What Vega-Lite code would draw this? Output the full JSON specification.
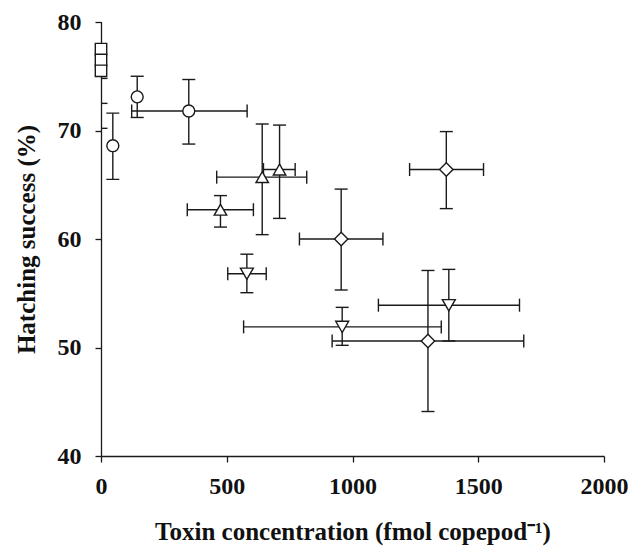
{
  "$schema": "https://vega.github.io/schema/vega-lite/v6.json",
  "width": 503,
  "height": 434,
  "autosize": "none",
  "padding": {"left": 101, "top": 22, "right": 37, "bottom": 90},
  "background": "white",
  "data": {
    "values": [
      {"group": "control", "x": 0, "y": 77.5, "ylo": 74.8, "yhi": 80.2},
      {"group": "control", "x": 0, "y": 76.5, "ylo": 72.5, "yhi": 80.5},
      {"group": "control", "x": 0, "y": 75.5, "ylo": 70.2, "yhi": 80.8},
      {"group": "circle", "x": 47, "y": 68.6, "ylo": 65.5, "yhi": 71.6},
      {"group": "circle", "x": 144, "y": 73.1, "ylo": 71.2, "yhi": 75.0},
      {"group": "circle", "x": 349, "y": 71.8, "ylo": 68.75, "yhi": 74.7, "xlo": 122, "xhi": 581},
      {"group": "up", "x": 475, "y": 62.7, "ylo": 61.1, "yhi": 64.0, "xlo": 343, "xhi": 606},
      {"group": "up", "x": 641, "y": 65.7, "ylo": 60.4, "yhi": 70.6, "xlo": 460, "xhi": 818},
      {"group": "up", "x": 710, "y": 66.4, "ylo": 61.9, "yhi": 70.5, "xlo": 646, "xhi": 772},
      {"group": "down", "x": 580, "y": 56.8, "ylo": 55.05, "yhi": 58.6, "xlo": 504, "xhi": 657},
      {"group": "down", "x": 959, "y": 51.9, "ylo": 50.2, "yhi": 53.7, "xlo": 567, "xhi": 1353},
      {"group": "down", "x": 1383, "y": 53.9, "ylo": 50.6, "yhi": 57.2, "xlo": 1103, "xhi": 1664},
      {"group": "diamond", "x": 1373, "y": 66.4, "ylo": 62.8, "yhi": 69.9, "xlo": 1227, "xhi": 1521},
      {"group": "diamond", "x": 955, "y": 60.0, "ylo": 55.3, "yhi": 64.6, "xlo": 789, "xhi": 1121},
      {"group": "diamond", "x": 1300, "y": 50.6, "ylo": 44.1, "yhi": 57.1, "xlo": 919, "xhi": 1681}
    ]
  },
  "encoding": {
    "x": {
      "field": "x",
      "type": "quantitative",
      "scale": {"domain": [0, 2000], "nice": false},
      "axis": {"values": [0, 500, 1000, 1500, 2000], "format": "d", "title": "Toxin concentration (fmol copepod⁻¹)"}
    },
    "y": {
      "field": "y",
      "type": "quantitative",
      "scale": {"domain": [40, 80], "nice": false, "zero": false},
      "axis": {"values": [40, 50, 60, 70, 80], "format": "d", "title": "Hatching success (%)"}
    }
  },
  "layer": [
    {
      "mark": {"type": "rule", "color": "#1a1a1a", "strokeWidth": 1.4, "clip": true},
      "encoding": {"y": {"field": "ylo", "type": "quantitative"}, "y2": {"field": "yhi"}}
    },
    {
      "mark": {"type": "tick", "orient": "horizontal", "size": 13, "thickness": 1.4, "color": "#1a1a1a", "opacity": 1, "clip": true},
      "encoding": {"y": {"field": "ylo", "type": "quantitative"}}
    },
    {
      "mark": {"type": "tick", "orient": "horizontal", "size": 13, "thickness": 1.4, "color": "#1a1a1a", "opacity": 1, "clip": true},
      "encoding": {"y": {"field": "yhi", "type": "quantitative"}}
    },
    {
      "transform": [{"filter": "isValid(datum.xlo)"}],
      "mark": {"type": "rule", "color": "#1a1a1a", "strokeWidth": 1.4},
      "encoding": {"x": {"field": "xlo", "type": "quantitative"}, "x2": {"field": "xhi"}}
    },
    {
      "transform": [{"filter": "isValid(datum.xlo)"}],
      "mark": {"type": "tick", "orient": "vertical", "size": 13, "thickness": 1.4, "color": "#1a1a1a", "opacity": 1},
      "encoding": {"x": {"field": "xlo", "type": "quantitative"}}
    },
    {
      "transform": [{"filter": "isValid(datum.xhi)"}],
      "mark": {"type": "tick", "orient": "vertical", "size": 13, "thickness": 1.4, "color": "#1a1a1a", "opacity": 1},
      "encoding": {"x": {"field": "xhi", "type": "quantitative"}}
    },
    {
      "mark": {"type": "point", "filled": true, "color": "white", "stroke": "#1a1a1a", "strokeWidth": 1.4, "opacity": 1},
      "encoding": {
        "shape": {
          "field": "group",
          "type": "nominal",
          "scale": {"domain": ["control", "circle", "up", "down", "diamond"], "range": ["square", "circle", "triangle-up", "triangle-down", "diamond"]},
          "legend": null
        },
        "size": {
          "field": "group",
          "type": "ordinal",
          "scale": {"domain": ["control", "circle", "up", "down", "diamond"], "range": [130, 180, 180, 180, 215]},
          "legend": null
        }
      }
    }
  ],
  "config": {
    "view": {"stroke": null},
    "axis": {
      "grid": false,
      "labelFlush": false,
      "domainColor": "#1a1a1a",
      "domainWidth": 1.3,
      "tickColor": "#1a1a1a",
      "tickWidth": 1.3,
      "tickSize": 6,
      "labelFont": "Liberation Serif",
      "labelFontWeight": "bold",
      "labelFontSize": 24,
      "labelColor": "#111",
      "titleFont": "Liberation Serif",
      "titleFontWeight": "bold",
      "titleFontSize": 25,
      "titleColor": "#111"
    },
    "axisX": {"labelPadding": 12, "titlePadding": 21},
    "axisY": {"labelPadding": 14, "titlePadding": 18, "labelBaseline": "middle"}
  }
}
